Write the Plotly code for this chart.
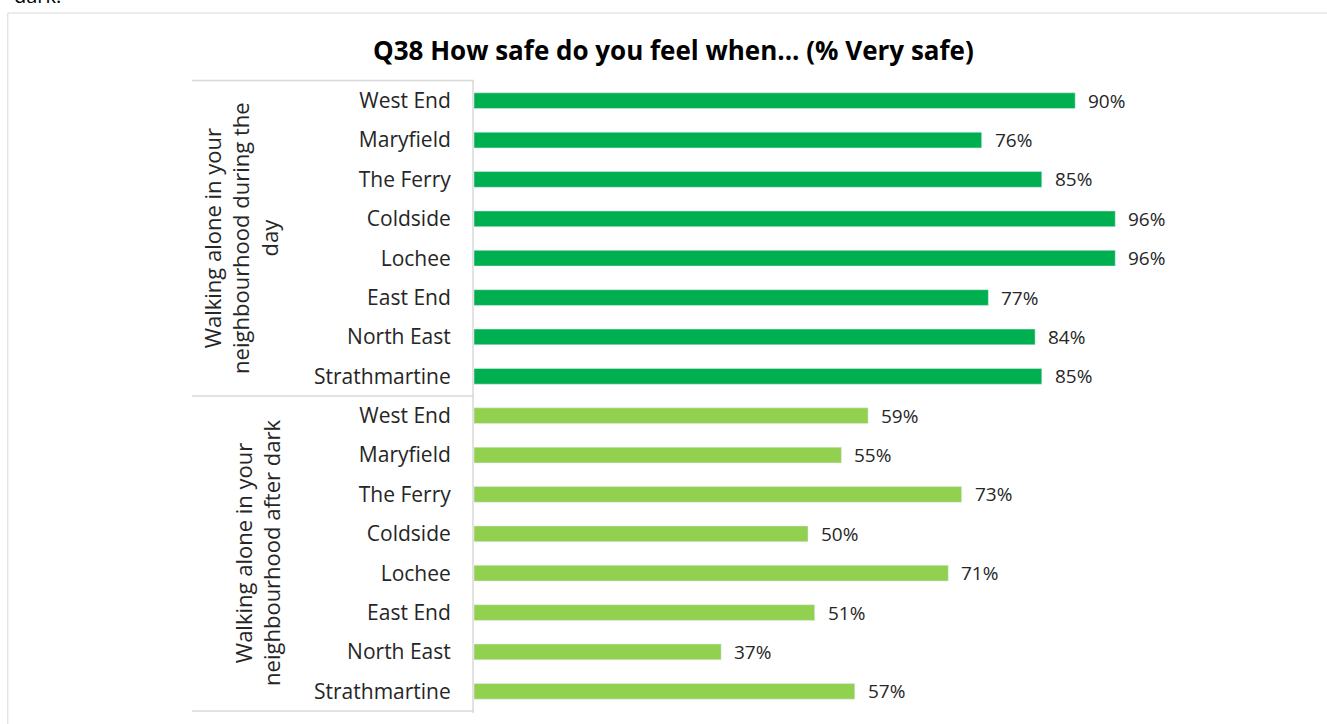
import plotly.graph_objects as go

areas = ["West End", "Maryfield", "The Ferry", "Coldside", "Lochee", "East End", "North East", "Strathmartine"]
day_values = [90, 76, 85, 96, 96, 77, 84, 85]
dark_values = [59, 55, 73, 50, 71, 51, 37, 57]
group_labels = ["Walking alone in your<br>neighbourhood during the<br>day",
                "Walking alone in your<br>neighbourhood after dark"]
title = "Q38 How safe do you feel when... (% Very safe)"
day_color = "#00B050"
dark_color = "#92D050"

W, H = 1327, 724
X0, XR = 474, 1141.7   # plot area left/right px
YT, YB = 81, 711       # plot area top/bottom px
FONT = "Open Sans"


def fx(px):
    return (px - X0) / (XR - X0)


def fy(py):
    return (YB - py) / (YB - YT)


n = len(areas)
pos_day = list(range(n))
pos_dark = list(range(n, 2 * n))

fig = go.Figure()
fig.add_trace(go.Bar(x=day_values, y=pos_day, orientation="h", marker_color=day_color,
                     width=0.4, showlegend=False))
fig.add_trace(go.Bar(x=dark_values, y=pos_dark, orientation="h", marker_color=dark_color,
                     width=0.4, showlegend=False))

annotations = []
for vals, poss in ((day_values, pos_day), (dark_values, pos_dark)):
    for v, p in zip(vals, poss):
        annotations.append(dict(x=v, y=p, xref="x", yref="y", text=f"{v}%", showarrow=False,
                                xanchor="left", xshift=11,
                                font=dict(family=FONT, size=19, color="#262626")))

annotations.append(dict(x=fx(240), y=fy(238), xref="paper", yref="paper", text=group_labels[0],
                        textangle=-90, showarrow=False, xanchor="center", yanchor="middle",
                        font=dict(family=FONT, size=22, color="#262626")))
annotations.append(dict(x=fx(257), y=fy(553), xref="paper", yref="paper", text=group_labels[1],
                        textangle=-90, showarrow=False, xanchor="center", yanchor="middle",
                        font=dict(family=FONT, size=22, color="#262626")))
annotations.append(dict(x=fx(673), y=fy(50), xref="paper", yref="paper", text=f"<b>{title}</b>",
                        showarrow=False, xanchor="center", yanchor="middle",
                        font=dict(family=FONT, size=26, color="#000000")))
annotations.append(dict(x=fx(12), y=fy(-5), xref="paper", yref="paper", text="dark.",
                        showarrow=False, xanchor="left", yanchor="middle",
                        font=dict(family=FONT, size=20, color="#000000")))

line_col = "#D9D9D9"
shapes = [
    dict(type="rect", xref="paper", yref="paper", x0=fx(8), x1=fx(1340), y0=fy(13), y1=fy(740),
         line=dict(color=line_col, width=1)),
    dict(type="line", xref="paper", yref="paper", x0=fx(192), x1=fx(474), y0=fy(80.5), y1=fy(80.5),
         line=dict(color=line_col, width=1.5)),
    dict(type="line", xref="paper", yref="paper", x0=fx(192), x1=fx(474), y0=fy(396), y1=fy(396),
         line=dict(color=line_col, width=1.5)),
    dict(type="line", xref="paper", yref="paper", x0=fx(192), x1=fx(474), y0=fy(711), y1=fy(711),
         line=dict(color=line_col, width=1.5)),
    dict(type="line", xref="paper", yref="paper", x0=fx(473), x1=fx(473), y0=fy(80.5), y1=fy(713),
         line=dict(color=line_col, width=1.5)),
]

fig.update_layout(
    width=W, height=H,
    margin=dict(l=X0, r=W - XR, t=YT, b=H - YB, pad=0),
    paper_bgcolor="white", plot_bgcolor="white",
    annotations=annotations, shapes=shapes,
    bargap=0.6,
    font=dict(family=FONT, color="#262626"),
)
fig.update_xaxes(range=[0, 100], showgrid=False, zeroline=False, showticklabels=False, showline=False)
fig.update_yaxes(range=[2 * n - 0.5, -0.5], tickmode="array", tickvals=pos_day + pos_dark,
                 ticktext=areas + areas, showgrid=False, zeroline=False, showline=False,
                 ticks="outside", ticklen=18, tickcolor="rgba(0,0,0,0)",
                 tickfont=dict(family=FONT, size=21, color="#262626"))

fig.write_html("out.html", config={"displayModeBar": False},
               post_script="document.body.style.margin='0';document.body.style.overflow='hidden';")
